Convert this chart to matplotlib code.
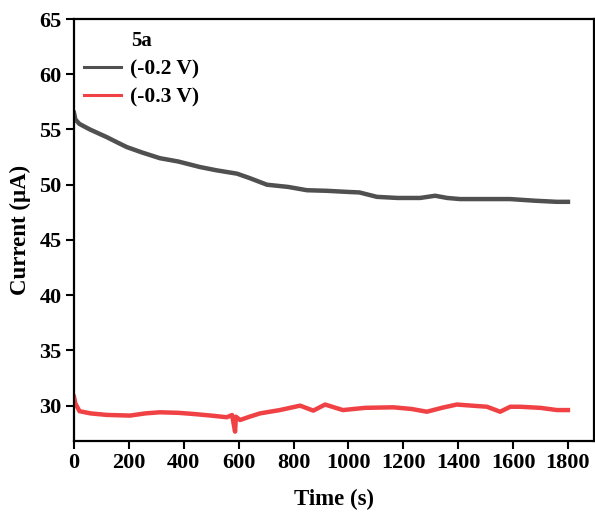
import matplotlib
matplotlib.use("Agg")
import matplotlib.pyplot as plt

# ---- data ----
t_02 = [0, 5, 20, 58, 120, 160, 193, 250, 313, 380, 459, 520, 594, 640, 703, 780, 849, 920, 995, 1040, 1104, 1180, 1261, 1316, 1360, 1407, 1500, 1589, 1680, 1760, 1800]
i_02 = [56.5, 55.9, 55.5, 55.0, 54.3, 53.8, 53.4, 52.9, 52.4, 52.1, 51.6, 51.3, 51.0, 50.6, 50.0, 49.8, 49.5, 49.45, 49.35, 49.3, 48.9, 48.8, 48.8, 49.0, 48.8, 48.7, 48.7, 48.7, 48.55, 48.45, 48.45]

t_03 = [0, 5, 20, 60, 120, 204, 260, 313, 380, 434, 500, 557, 576, 587, 590, 605, 640, 678, 750, 824, 872, 915, 980, 1060, 1163, 1230, 1286, 1340, 1395, 1450, 1505, 1553, 1590, 1625, 1700, 1760, 1800]
i_03 = [30.8, 30.2, 29.5, 29.3, 29.16, 29.1, 29.3, 29.4, 29.35, 29.25, 29.1, 28.95, 29.15, 27.65, 29.0, 28.7, 29.0, 29.3, 29.6, 30.0, 29.55, 30.1, 29.6, 29.8, 29.85, 29.7, 29.45, 29.8, 30.1, 30.0, 29.9, 29.45, 29.9, 29.9, 29.8, 29.6, 29.6]

labels = ["(-0.2 V)", "(-0.3 V)"]
legend_title = "5a"
xticks = [0, 200, 400, 600, 800, 1000, 1200, 1400, 1600, 1800]
yticks = [30, 35, 40, 45, 50, 55, 60, 65]

plt.rcParams['font.family'] = ['Liberation Serif', 'DejaVu Serif']
plt.rcParams['font.weight'] = 'bold'

fig = plt.figure(figsize=(5.95, 5.16), dpi=100)
ax = fig.add_axes([74/595, 75/516, 520/595, 422/516])

ax.plot(t_02, i_02, color='#505050', lw=3.2, label=labels[0], solid_joinstyle='round')
ax.plot(t_03, i_03, color='#f04244', lw=3.2, label=labels[1], solid_joinstyle='round')

ax.set_xlim(0, 1895)
ax.set_ylim(26.8, 65)
ax.set_xticks(xticks)
ax.set_yticks(yticks)
ax.tick_params(axis='both', which='major', direction='out', length=6, width=1.5,
               labelsize=16, top=False, right=False, pad=3)
for lab in ax.get_xticklabels() + ax.get_yticklabels():
    lab.set_fontweight('bold')
for s in ax.spines.values():
    s.set_linewidth(1.6)

ax.set_xlabel("Time (s)", fontsize=16.5, fontweight='bold', labelpad=11)
ax.set_ylabel("Current (μA)", fontsize=16.5, fontweight='bold', labelpad=6)

leg = ax.legend(title=legend_title, loc='upper left', frameon=False, fontsize=15.5,
                title_fontproperties={'weight': 'bold', 'size': 15},
                handlelength=1.7, handletextpad=0.45, borderaxespad=0.0,
                labelspacing=0.4, bbox_to_anchor=(0.003, 0.993))
for txt in leg.get_texts():
    txt.set_fontweight('bold')
for ln in leg.get_lines():
    ln.set_linewidth(2.2)

fig.savefig("out.png", dpi=100)
